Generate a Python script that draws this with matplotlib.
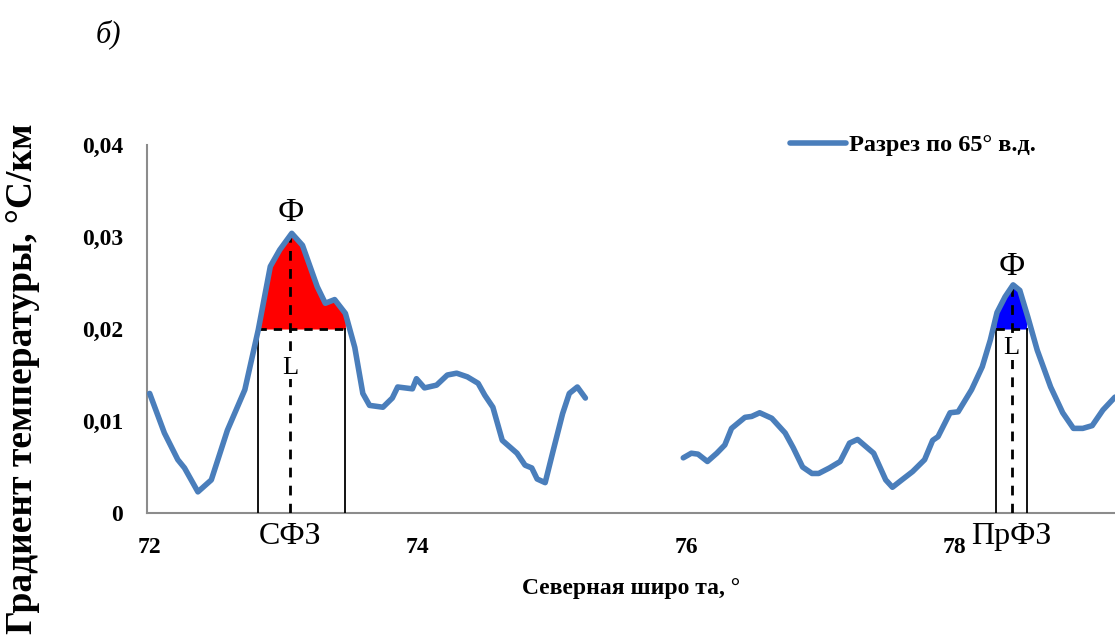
import numpy as np
import matplotlib
matplotlib.use("Agg")
import matplotlib.pyplot as plt

plt.rcParams['font.family'] = ['Liberation Serif', 'DejaVu Serif']

# разрез по 65° в.д., два участка
lat_1 = [72.00, 72.11, 72.21, 72.26, 72.36, 72.46, 72.58, 72.71, 72.81, 72.90,
         72.97, 73.06, 73.14, 73.25, 73.31, 73.38, 73.46, 73.53, 73.59, 73.64,
         73.74, 73.81, 73.85, 73.96, 73.99, 74.05, 74.14, 74.22, 74.29, 74.37,
         74.45, 74.50, 74.56, 74.63, 74.74, 74.80, 74.85, 74.89, 74.95, 75.01,
         75.08, 75.13, 75.19, 75.25]
grad_1 = [0.0130, 0.0087, 0.0058, 0.0049, 0.0023, 0.0036, 0.0090, 0.0134, 0.0199, 0.0268,
          0.0286, 0.0304, 0.0291, 0.0246, 0.0228, 0.0232, 0.0217, 0.0180, 0.0130, 0.0117,
          0.0115, 0.0125, 0.0137, 0.0135, 0.0146, 0.0136, 0.0139, 0.0150, 0.0152, 0.0148,
          0.0141, 0.0128, 0.0115, 0.0079, 0.0065, 0.0052, 0.0049, 0.0037, 0.0033, 0.0068,
          0.0108, 0.0130, 0.0137, 0.0125]

lat_2 = [75.98, 76.04, 76.09, 76.16, 76.23, 76.29, 76.34, 76.44, 76.49, 76.55,
         76.64, 76.74, 76.80, 76.87, 76.94, 76.99, 77.07, 77.15, 77.22, 77.28,
         77.40, 77.49, 77.54, 77.61, 77.69, 77.78, 77.84, 77.88, 77.97, 78.03,
         78.13, 78.21, 78.27, 78.32, 78.38, 78.44, 78.49, 78.55, 78.62, 78.72,
         78.81, 78.89, 78.96, 79.03, 79.11, 79.20]
grad_2 = [0.0060, 0.0065, 0.0064, 0.0056, 0.0065, 0.0074, 0.0092, 0.0104, 0.0105, 0.0109,
          0.0103, 0.0087, 0.0071, 0.0050, 0.0043, 0.0043, 0.0049, 0.0056, 0.0076, 0.0080,
          0.0065, 0.0036, 0.0028, 0.0036, 0.0045, 0.0058, 0.0079, 0.0083, 0.0109, 0.0110,
          0.0134, 0.0159, 0.0188, 0.0218, 0.0235, 0.0248, 0.0242, 0.0213, 0.0177, 0.0137,
          0.0109, 0.0092, 0.0092, 0.0095, 0.0112, 0.0126]

# фронтальные зоны: границы, ось фронта, подпись L
zones = [
    dict(name='СФЗ', left=72.81, right=73.46, axis=73.05, color='#ff0000',
         lat=lat_1, grad=grad_1, l_y=0.0158, f_y=0.0326),
    dict(name='ПрФЗ', left=78.31, right=78.54, axis=78.43, color='#0000ff',
         lat=lat_2, grad=grad_2, l_y=0.0179, f_y=0.0268),
]
threshold = 0.02

line_color = '#4a7ebb'

fig = plt.figure(figsize=(11.15, 6.42), dpi=100)
ax = fig.add_axes([0.1318, 0.2009, 0.8682, 0.5732])

ax.plot(lat_1, grad_1, color=line_color, lw=4.0, solid_capstyle='round', zorder=4,
        label='Разрез по 65° в.д.')
ax.plot(lat_2, grad_2, color=line_color, lw=4.0, solid_capstyle='round', zorder=4)

for z in zones:
    xs = np.linspace(z['left'], z['right'], 300)
    ys = np.interp(xs, z['lat'], z['grad'])
    ax.fill_between(xs, np.maximum(ys, threshold), threshold, color=z['color'], lw=0, zorder=2)
    peak = np.interp(z['axis'], z['lat'], z['grad'])
    ax.plot([z['left'], z['left']], [0, threshold], color='black', lw=1.3, zorder=3)
    ax.plot([z['right'], z['right']], [0, threshold], color='black', lw=1.3, zorder=3)
    ax.plot([z['left'], z['right']], [threshold, threshold], color='black', lw=2,
            ls=(0, (3, 2.5)), zorder=3)
    ax.plot([z['axis'], z['axis']], [0, peak], color='black', lw=2,
            ls=(0, (3.5, 3)), zorder=3)
    ax.text(z['axis'], z['f_y'], 'Ф', ha='center', va='center', fontsize=24, zorder=5)
    ax.text(z['axis'], z['l_y'], 'L', ha='center', va='center', fontsize=19, zorder=5,
            bbox=dict(facecolor='white', edgecolor='none', pad=0.5))
    ax.text(z['axis'], -0.0025, z['name'], ha='center', va='center', fontsize=23)

ax.set_xlim(71.98, 79.2)
ax.set_ylim(0, 0.04)
ax.set_xticks([72, 74, 76, 78])
ax.set_xticklabels(['72', '74', '76', '78'])
ax.set_yticks([0, 0.01, 0.02, 0.03, 0.04])
ax.set_yticklabels(['0', '0,01', '0,02', '0,03', '0,04'])
ax.tick_params(length=0, labelsize=17)
ax.tick_params(axis='y', pad=17)
ax.tick_params(axis='x', pad=17)
for lab in ax.get_xticklabels() + ax.get_yticklabels():
    lab.set_fontweight('bold')

for side in ['top', 'right']:
    ax.spines[side].set_visible(False)
for side in ['left', 'bottom']:
    ax.spines[side].set_color('#8c8c8c')
    ax.spines[side].set_linewidth(1.5)

ax.set_xlabel('Северная широ та, °', fontsize=17, fontweight='bold', labelpad=15)
fig.text(0.02, 0.41, 'Градиент температуры, °С/км', rotation=90, ha='center', va='center',
         fontsize=27, fontweight='bold')
fig.text(0.097, 0.947, 'б)', fontsize=22, style='italic', ha='center', va='center')

ax.legend(loc='center left', bbox_to_anchor=(0.664, 1.0), frameon=False,
          handlelength=2.3, handletextpad=0.15, borderpad=0, borderaxespad=0,
          prop={'weight': 'bold', 'size': 17.5})

fig.savefig('out.png', dpi=100)
